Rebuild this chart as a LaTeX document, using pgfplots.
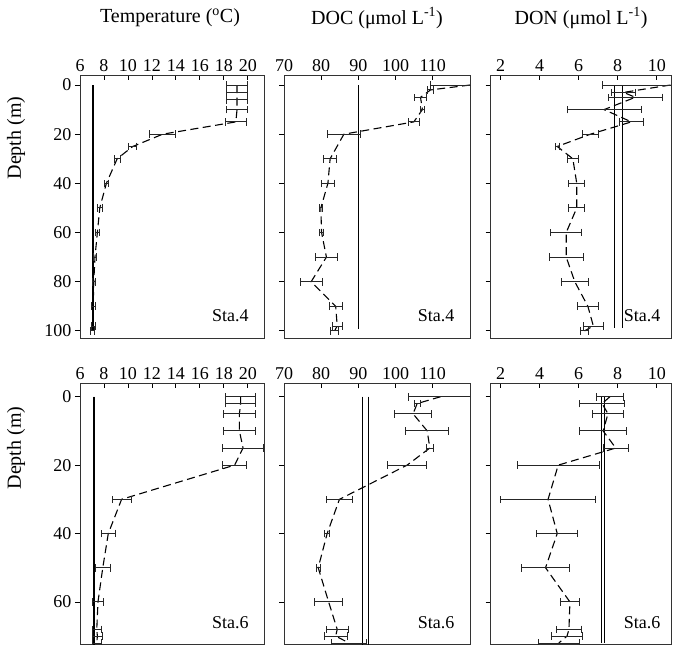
\documentclass[border=0pt]{standalone}
\usepackage{fontspec}
\setmainfont{Liberation Serif}
\usepackage{pgfplots}
\usepackage{pgfplotstable}
\pgfplotsset{compat=1.18}

% depth (m), value, error
\pgfplotstableread{
d v e
0 19.1 0.88
3 19.1 0.88
6 19.1 0.88
10 19.1 0.88
15 19.0 0.88
20 12.9 1.1
25 10.4 0.35
30 9.1 0.25
40 8.2 0.2
50 7.65 0.2
60 7.45 0.15
70 7.25 0.15
80 7.15 0.15
90 7.1 0.15
98 7.1 0.15
100 7.05 0.15
}\tempA
\pgfplotstableread{
d v e
0 19.4 1.25
2 19.4 1.25
5 19.3 1.3
10 19.3 1.3
15 19.6 1.7
20 18.9 1.0
30 9.47 0.8
40 8.36 0.6
50 7.9 0.6
60 7.5 0.45
68 7.4 0.4
70 7.45 0.4
72 7.4 0.4
}\tempB
\pgfplotstableread{
d v e
0 120 10.6
2 109.4 0.8
5 106.7 1.5
10 107.2 0.5
15 104.9 1.5
20 86.1 4.5
30 82.4 1.8
40 81.8 1.8
50 79.9 0.5
60 80.1 0.6
70 81.4 3.0
80 77.3 3.0
90 83.9 1.7
98 84.3 1.4
100 83.6 1.1
}\docA
\pgfplotstableread{
d v e
0 112.1 8.6
2 105.8 0.8
5 104.7 5.0
10 108.5 5.8
15 109.2 1.0
20 103.1 5.2
30 84.9 3.5
40 81.6 0.6
50 79.2 0.5
60 82.0 3.7
68 84.3 2.9
70 83.9 3.1
72 87.5 4.7
}\docB
\pgfplotstableread{
d v e
0 10.7 3.5
3 8.3 0.6
5 8.9 1.4
10 7.3 1.9
15 8.7 0.6
20 6.6 0.4
25 4.9 0.1
30 5.7 0.3
40 5.9 0.4
50 5.9 0.4
60 5.36 0.8
70 5.36 0.88
80 5.8 0.7
90 6.47 0.55
98 6.75 0.5
100 6.3 0.2
}\donA
\pgfplotstableread{
d v e
0 7.6 0.7
2 7.2 1.15
5 7.5 0.8
10 7.25 1.2
15 7.9 0.64
20 4.95 2.1
30 4.43 2.45
40 4.9 1.05
50 4.3 1.22
60 5.55 0.48
68 5.5 0.64
70 5.4 0.8
72 4.98 1.05
}\donB

\pgfplotsset{
  panel/.style={
    scale only axis, anchor=north west,
    y dir=reverse,
    axis line style={line width=0.8pt, black!80},
    xtick pos=upper, xticklabel pos=upper,
    ytick pos=left,
    xtick align=inside, ytick align=outside,
    major tick length=5pt,
    tick style={line width=0.8pt, black},
    /pgf/number format/assume math mode=true,
    ticklabel style={font=\fontsize{18}{18}\selectfont},
  },
  toprow/.style={height=263pt, ymin=-4.07, ymax=102.9, ytick={0,20,...,100}},
  botrow/.style={height=260.7pt, ymin=-3.92, ymax=72.3, ytick={0,20,40,60}},
  prof/.style={black, line width=1.1pt, dash pattern=on 8pt off 4.5pt,
    error bars/.cd, x dir=both, x explicit,
    error bar style={solid, line width=0.9pt, black!85},
    error mark options={solid, rotate=90, mark size=3.8pt, line width=0.9pt, black!85}},
  mean/.style={black, line width=1pt, solid},
}
\tikzset{sta/.style={font=\fontsize{18}{18}\selectfont, anchor=base east}}

\begin{document}
\begin{tikzpicture}
\path[use as bounding box] (0,0) rectangle (673pt,-646pt);

\node[font=\fontsize{20}{20}\selectfont] at (170pt,-18pt) {Temperature (\textsuperscript{o}C)};
\node[font=\fontsize{20}{20}\selectfont] at (377pt,-18pt) {DOC (μmol L\textsuperscript{-1})};
\node[font=\fontsize{20}{20}\selectfont] at (581pt,-18pt) {DON (μmol L\textsuperscript{-1})};
\node[font=\fontsize{20}{20}\selectfont, rotate=90] at (16pt,-138pt) {Depth (m)};
\node[font=\fontsize{20}{20}\selectfont, rotate=90] at (16pt,-448pt) {Depth (m)};

% ---- row 1: Sta.4
\begin{axis}[panel, toprow, at={(80pt,-75pt)}, width=184pt,
  xmin=6, xmax=21.35, xtick={6,8,...,20}]
\addplot[mean, line width=1.4pt] coordinates {(7.1,0) (7.1,100)};
\addplot[prof] table[x=v, y=d, x error=e] {\tempA};
\node[sta] at (axis description cs:0.935,0.062) {Sta.4};
\end{axis}

\begin{axis}[panel, toprow, at={(284pt,-75pt)}, width=186pt,
  xmin=70, xmax=120, xtick={70,80,...,110}, yticklabels={}]
\addplot[mean] coordinates {(90,0) (90,99.3)};
\addplot[prof] table[x=v, y=d, x error=e] {\docA};
\node[sta] at (axis description cs:0.935,0.062) {Sta.4};
\end{axis}

\begin{axis}[panel, toprow, at={(490.7pt,-75pt)}, width=180.3pt,
  xmin=1.49, xmax=10.73, xtick={2,4,...,10}, yticklabels={}]
\addplot[mean] coordinates {(7.81,0) (7.81,98.8)};
\addplot[mean] coordinates {(8.24,0) (8.24,98.8)};
\addplot[prof] table[x=v, y=d, x error=e] {\donA};
\node[sta] at (axis description cs:0.96,0.062) {Sta.4};
\end{axis}

% ---- row 2: Sta.6
\begin{axis}[panel, botrow, at={(80pt,-383.3pt)}, width=184pt,
  xmin=6, xmax=21.35, xtick={6,8,...,20}]
\addplot[mean, line width=0.7pt] coordinates {(7.11,0) (7.11,73)};
\addplot[mean, line width=0.7pt] coordinates {(7.22,0) (7.22,73)};
\addplot[prof] table[x=v, y=d, x error=e] {\tempB};
\node[sta] at (axis description cs:0.935,0.061) {Sta.6};
\end{axis}

\begin{axis}[panel, botrow, at={(284pt,-383.3pt)}, width=186pt,
  xmin=70, xmax=120, xtick={70,80,...,110}, yticklabels={}]
\addplot[mean] coordinates {(91.2,0) (91.2,73)};
\addplot[mean] coordinates {(92.8,0) (92.8,73)};
\addplot[prof] table[x=v, y=d, x error=e] {\docB};
\node[sta] at (axis description cs:0.935,0.061) {Sta.6};
\end{axis}

\begin{axis}[panel, botrow, at={(490.7pt,-383.3pt)}, width=180.3pt,
  xmin=1.49, xmax=10.73, xtick={2,4,...,10}, yticklabels={}]
\addplot[mean] coordinates {(7.18,0) (7.18,72)};
\addplot[mean] coordinates {(7.30,0) (7.30,72)};
\addplot[prof] table[x=v, y=d, x error=e] {\donB};
\node[sta] at (axis description cs:0.96,0.061) {Sta.6};
\end{axis}
\end{tikzpicture}
\end{document}
